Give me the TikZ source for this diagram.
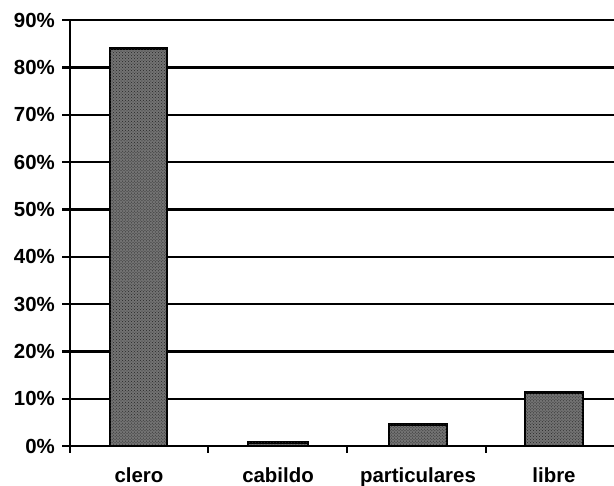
\documentclass[tikz,border=0pt]{standalone}
\usepackage{fontspec}
\setmainfont{Liberation Sans}
\usepackage{tikz}
\usetikzlibrary{patterns}

\tikzset{
  grid line/.style={line width=2.2bp,black},
  bar/.style={draw=black,line width=2.8bp,fill=black!55,postaction={pattern=crosshatch dots,pattern color=black!85}},
  axis label/.style={font=\fontsize{20.5}{22}\selectfont\bfseries,inner sep=0pt}
}

\begin{document}
\begin{tikzpicture}[x=1bp,y=-1bp]
        \useasboundingbox (0,0) rectangle (614,486);

        % gridlines
        \draw[grid line] (70,398.7) -- (614,398.7);
        \draw[grid line] (70,351.4) -- (614,351.4);
        \draw[grid line] (70,304.1) -- (614,304.1);
        \draw[grid line] (70,256.8) -- (614,256.8);
        \draw[grid line] (70,209.5) -- (614,209.5);
        \draw[grid line] (70,162.2) -- (614,162.2);
        \draw[grid line] (70,114.9) -- (614,114.9);
        \draw[grid line] (70,67.6) -- (614,67.6);
        \draw[grid line] (70,20.3) -- (614,20.3);

        % bars
        \draw[bar] (110,446) rectangle (167,48.7);
        \draw[bar] (248,446) rectangle (308,442.5);
        \draw[bar] (389,446) rectangle (447,424.5);
        \draw[bar] (525,446) rectangle (583,392.5);

        % axes
        \draw[grid line] (70,20.3) -- (70,453);
        \draw[grid line] (70,446) -- (614,446);
        \draw[grid line] (62,446) -- (70,446);
        \draw[grid line] (62,398.7) -- (70,398.7);
        \draw[grid line] (62,351.4) -- (70,351.4);
        \draw[grid line] (62,304.1) -- (70,304.1);
        \draw[grid line] (62,256.8) -- (70,256.8);
        \draw[grid line] (62,209.5) -- (70,209.5);
        \draw[grid line] (62,162.2) -- (70,162.2);
        \draw[grid line] (62,114.9) -- (70,114.9);
        \draw[grid line] (62,67.6) -- (70,67.6);
        \draw[grid line] (62,20.3) -- (70,20.3);
        \draw[grid line] (208,446) -- (208,453);
        \draw[grid line] (347,446) -- (347,453);
        \draw[grid line] (486,446) -- (486,453);

        % y labels
        \node[axis label,anchor=east] (p0) at (55,446) {0\%};
        \node[axis label,anchor=east] (p10) at (55,398.7) {10\%};
        \node[axis label,anchor=east] (p20) at (55,351.4) {20\%};
        \node[axis label,anchor=east] (p30) at (55,304.1) {30\%};
        \node[axis label,anchor=east] (p40) at (55,256.8) {40\%};
        \node[axis label,anchor=east] (p50) at (55,209.5) {50\%};
        \node[axis label,anchor=east] (p60) at (55,162.2) {60\%};
        \node[axis label,anchor=east] (p70) at (55,114.9) {70\%};
        \node[axis label,anchor=east] (p80) at (55,67.6) {80\%};
        \node[axis label,anchor=east] (p90) at (55,20.3) {90\%};

        % x labels
        \node[axis label,anchor=base] (clero) at (139,482) {clero};
        \node[axis label,anchor=base] (cabildo) at (278,482) {cabildo};
        \node[axis label,anchor=base] (particulares) at (418,482) {particulares};
        \node[axis label,anchor=base] (libre) at (554,482) {libre};
    \end{tikzpicture}
\end{document}
